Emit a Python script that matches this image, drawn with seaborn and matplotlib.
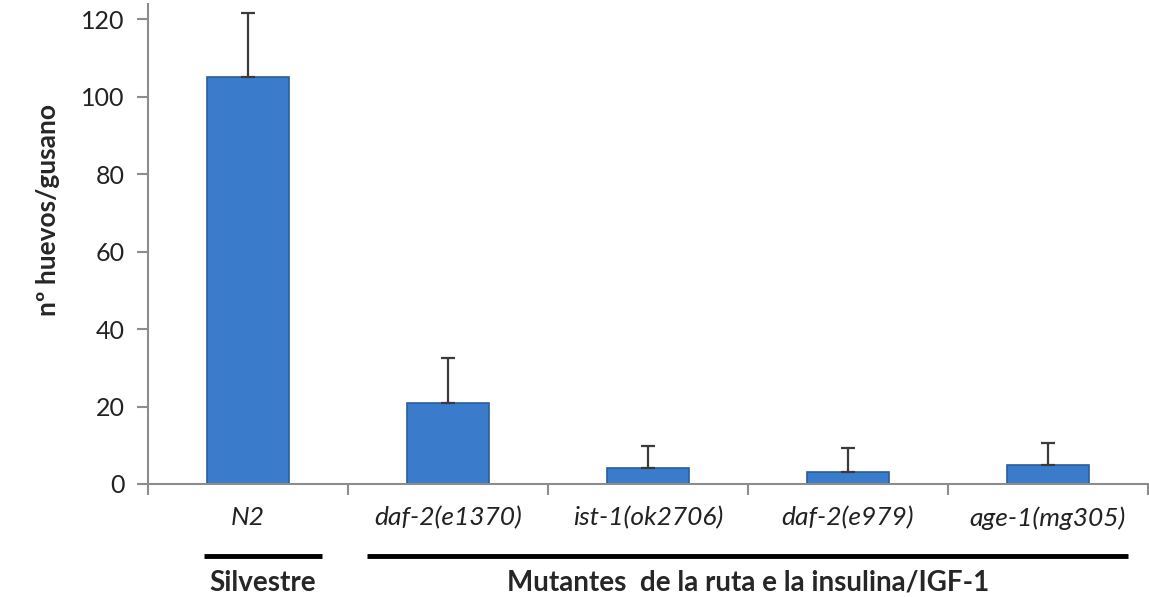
import matplotlib
matplotlib.use("Agg")
import matplotlib.pyplot as plt
import matplotlib.transforms as mtransforms
import seaborn as sns
import pandas as pd

# Values
strains = ["N2", "daf-2(e1370)", "ist-1(ok2706)", "daf-2(e979)", "age-1(mg305)"]
eggs = [105, 21, 4, 3, 5]
err = [16.5, 11.5, 5.8, 6.3, 5.6]
groups = ["Silvestre", "Mutantes  de la ruta e la insulina/IGF-1"]

df = pd.DataFrame({"strain": strains, "eggs": eggs})

sns.set_style("white")
plt.rcParams["font.family"] = ["Lato", "DejaVu Sans"]

fig = plt.figure(figsize=(11.49, 5.97), dpi=100)
ax = fig.add_axes([0.1288, 0.1893, 0.8703, 0.8047])

sns.barplot(data=df, x="strain", y="eggs", color="#3B7BCB", width=0.41,
            errorbar=None, edgecolor="#2C5C9C", linewidth=1.2, ax=ax,
            saturation=1)

# upper error bars only
ax.errorbar(range(len(strains)), eggs, yerr=[[0] * len(err), err], fmt="none",
            ecolor="#3a3a3a", elinewidth=1.6, capsize=5, capthick=1.6, zorder=3)

ax.set_xlim(-0.5, 4.5)
ax.set_ylim(0, 124)
ax.set_yticks(range(0, 121, 20))
ax.set_xlabel("")
ax.set_ylabel("nº huevos/gusano", fontsize=19, fontweight="bold")
ax.yaxis.set_label_coords(-0.088, 0.57)

for s in ["top", "right"]:
    ax.spines[s].set_visible(False)
for s in ["left", "bottom"]:
    ax.spines[s].set_color("#8c8c8c")
    ax.spines[s].set_linewidth(1.5)

ax.tick_params(axis="y", direction="out", length=8, width=1.5, color="#8c8c8c",
               labelsize=18, labelcolor="#222222", pad=9, left=True)
ax.set_xticks([x + 0.5 for x in range(-1, 5)], minor=True)
ax.tick_params(axis="x", which="minor", direction="out", length=8, width=1.5,
               color="#8c8c8c", bottom=True)
ax.tick_params(axis="x", which="major", length=0, labelsize=19, pad=16,
               labelcolor="#222222")
for lbl in ax.get_xticklabels():
    lbl.set_fontstyle("italic")

# group brackets below the axis
trans = mtransforms.blended_transform_factory(ax.transData, ax.transAxes)
ax.plot([-0.22, 0.37], [-0.15, -0.15], color="black", lw=3.5,
        transform=trans, clip_on=False, solid_capstyle="butt")
ax.plot([0.595, 4.4], [-0.15, -0.15], color="black", lw=3.5,
        transform=trans, clip_on=False, solid_capstyle="butt")
ax.text(0.075, -0.206, groups[0], transform=trans, ha="center", va="center",
        fontsize=20, fontweight="bold")
ax.text(2.5, -0.206, groups[1], transform=trans, ha="center", va="center",
        fontsize=20, fontweight="bold")

fig.savefig("out.png", dpi=100)
